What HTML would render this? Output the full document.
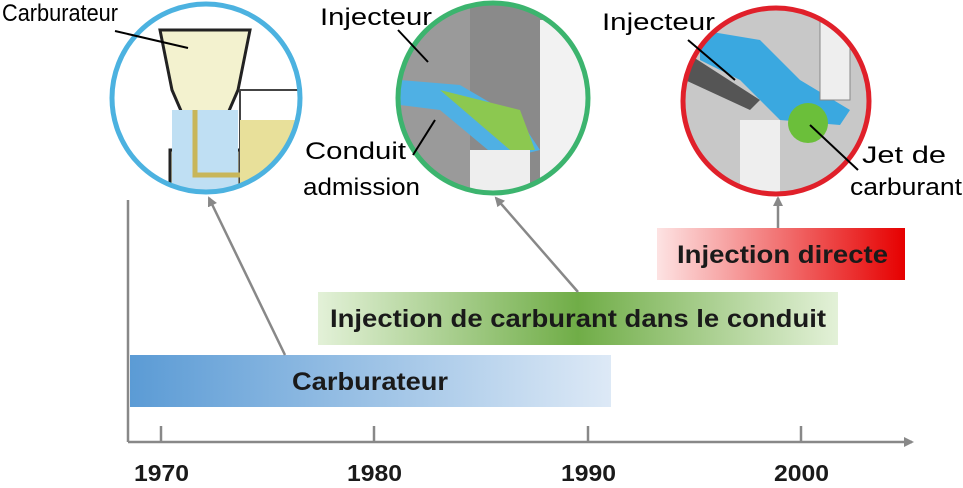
<!DOCTYPE html>
<html><head><meta charset="utf-8"><style>
body{margin:0;background:#fff;}
svg{display:block;font-family:"Liberation Sans",sans-serif;}
</style></head><body>
<svg width="963" height="488" viewBox="0 0 963 488" xmlns="http://www.w3.org/2000/svg">
<defs>
<linearGradient id="gb" x1="0" x2="1"><stop offset="0" stop-color="#5b9bd5"/><stop offset="1" stop-color="#dde9f6"/></linearGradient>
<linearGradient id="gg" x1="0" x2="1"><stop offset="0" stop-color="#e3f1d8"/><stop offset="0.5" stop-color="#70ad47"/><stop offset="1" stop-color="#e3f1d8"/></linearGradient>
<linearGradient id="gr" x1="0" x2="1"><stop offset="0" stop-color="#fde3e3"/><stop offset="1" stop-color="#e60000"/></linearGradient>
<marker id="ah" markerWidth="10" markerHeight="10" refX="8" refY="5" orient="auto" markerUnits="userSpaceOnUse"><path d="M0,0 L10,5 L0,10 z" fill="#888"/></marker>
<clipPath id="c1"><circle cx="206" cy="98" r="94"/></clipPath>
<clipPath id="c2"><circle cx="493" cy="98" r="95"/></clipPath>
<clipPath id="c3"><circle cx="776" cy="101" r="93"/></clipPath>
</defs>
<circle cx="206" cy="98" r="94" fill="#fff"/>
<g clip-path="url(#c1)">
<path d="M160,30 L250,30 L238,90 L225,120 L225,150 L240,150 L240,200 L170,200 L170,150 L185,150 L185,120 L172,90 Z" fill="#f3f2cf" stroke="#222" stroke-width="3"/>
<rect x="172" y="110" width="66" height="90" fill="#bfdff3"/>
<rect x="240" y="90" width="70" height="110" fill="#fff" stroke="#444" stroke-width="2"/>
<rect x="240" y="120" width="70" height="80" fill="#e8e09a"/>
<path d="M195,110 L195,175 L240,175" fill="none" stroke="#c8b65a" stroke-width="5"/>
</g>
<circle cx="206" cy="98" r="94" fill="none" stroke="#4cb2e0" stroke-width="5"/>
<g clip-path="url(#c2)">
<rect x="395" y="0" width="200" height="200" fill="#9a9a9a"/>
<rect x="470" y="0" width="90" height="200" fill="#8a8a8a"/>
<path d="M400,80 L460,85 L520,120 L540,150 L500,160 L440,110 L400,105 Z" fill="#4fb0e4"/>
<path d="M440,90 L520,110 L535,150 L510,150 Z" fill="#8cc850"/>
<rect x="540" y="20" width="50" height="180" fill="#f2f2f2"/>
<rect x="470" y="150" width="60" height="50" fill="#eee"/>
</g>
<circle cx="493" cy="98" r="95" fill="none" stroke="#3cb46e" stroke-width="5"/>
<g clip-path="url(#c3)">
<rect x="680" y="0" width="200" height="200" fill="#c8c8c8"/>
<path d="M700,30 L760,40 L800,80 L850,110 L840,125 L780,120 L740,80 L700,60 Z" fill="#3aa8e0"/>
<rect x="740" y="120" width="40" height="90" fill="#eee"/>
<circle cx="808" cy="123" r="20" fill="#6bbf3a"/>
<path d="M690,55 L760,100 L750,110 L685,80 Z" fill="#555"/>
<rect x="820" y="10" width="30" height="90" fill="#eee" stroke="#888"/>
</g>
<circle cx="776" cy="101" r="93" fill="none" stroke="#e0202a" stroke-width="5"/>
<g stroke="#000" stroke-width="2" fill="none">
<line x1="115" y1="31" x2="188" y2="48"/>
<line x1="398" y1="30" x2="428" y2="62"/>
<line x1="413" y1="155" x2="435" y2="120"/>
<line x1="688" y1="40" x2="735" y2="80"/>
<line x1="858" y1="170" x2="810" y2="125"/>
</g>
<g font-size="24" fill="#000" lengthAdjust="spacingAndGlyphs">
<text x="2" y="21" textLength="116" lengthAdjust="spacingAndGlyphs">Carburateur</text>
<text x="320" y="25" textLength="112" lengthAdjust="spacingAndGlyphs">Injecteur</text>
<text x="305" y="159" textLength="101" lengthAdjust="spacingAndGlyphs">Conduit</text>
<text x="303" y="195" textLength="117" lengthAdjust="spacingAndGlyphs">admission</text>
<text x="602" y="30" textLength="113" lengthAdjust="spacingAndGlyphs">Injecteur</text>
<text x="862" y="163" textLength="84" lengthAdjust="spacingAndGlyphs">Jet de</text>
<text x="850" y="195" textLength="112" lengthAdjust="spacingAndGlyphs">carburant</text>
</g>
<rect x="130" y="355" width="481" height="52" fill="url(#gb)"/>
<rect x="318" y="292" width="520" height="53" fill="url(#gg)"/>
<rect x="657" y="228" width="248" height="52" fill="url(#gr)"/>
<g font-size="25" font-weight="bold" fill="#1a1a1a">
<text x="292" y="390" textLength="156" lengthAdjust="spacingAndGlyphs">Carburateur</text>
<text x="330" y="327" textLength="496" lengthAdjust="spacingAndGlyphs">Injection de carburant dans le conduit</text>
<text x="677" y="263" textLength="211" lengthAdjust="spacingAndGlyphs">Injection directe</text>
</g>
<g stroke="#888" stroke-width="2.5" fill="none" marker-end="url(#ah)">
<line x1="285" y1="355" x2="209" y2="198"/>
<line x1="578" y1="292" x2="496" y2="198"/>
<line x1="778" y1="228" x2="778" y2="198"/>
</g>
<g stroke="#888" stroke-width="2.5" fill="none">
<line x1="128" y1="200" x2="128" y2="442"/>
<line x1="128" y1="442" x2="912" y2="442" marker-end="url(#ah)"/>
<line x1="161" y1="426" x2="161" y2="442"/>
<line x1="374" y1="426" x2="374" y2="442"/>
<line x1="588" y1="426" x2="588" y2="442"/>
<line x1="801" y1="426" x2="801" y2="442"/>
</g>
<g font-size="23" font-weight="bold" fill="#1a1a1a">
<text x="134" y="481" textLength="55" lengthAdjust="spacingAndGlyphs">1970</text>
<text x="347" y="481" textLength="55" lengthAdjust="spacingAndGlyphs">1980</text>
<text x="561" y="481" textLength="55" lengthAdjust="spacingAndGlyphs">1990</text>
<text x="774" y="481" textLength="55" lengthAdjust="spacingAndGlyphs">2000</text>
</g>
</svg>
</body></html>
